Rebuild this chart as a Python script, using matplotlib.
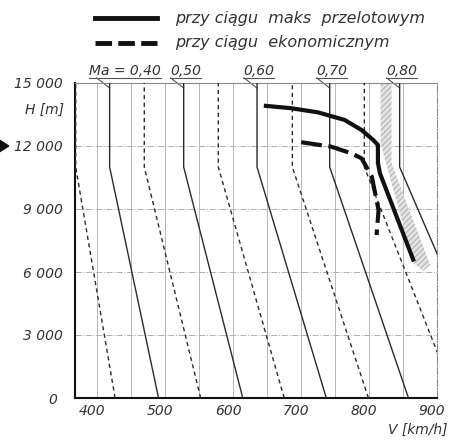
import matplotlib
matplotlib.use('Agg')
import matplotlib.pyplot as plt
import matplotlib.transforms as mtrans
from matplotlib.patches import Polygon
import numpy as np

plt.rcParams['font.family'] = ['DejaVu Sans']
plt.rcParams['font.style'] = 'italic'
plt.rcParams['hatch.linewidth'] = 0.6

# Mach reference lines: speed at sea level and in stratosphere (km/h)
mach_solid = ['Ma = 0,40', '0,50', '0,60', '0,70', '0,80']
v_sea_solid = [490, 614, 737, 858, 992]
v_top_solid = [418, 527, 635, 742, 845]
v_sea_dashed = [426, 552, 675, 799, 927]
v_top_dashed = [368, 469, 578, 687, 793]
h_break = 11000
h_top = 15000

# range at max cruise thrust
v_max = [645, 685, 725, 764, 789, 806, 813, 813, 816, 866]
h_max = [13920, 13800, 13600, 13240, 12760, 12290, 12050, 11200, 10700, 6500]
# range at economic thrust
v_eco = [700, 744, 774, 789, 804, 808, 814, 811]
h_eco = [12180, 11970, 11650, 11410, 10540, 9900, 8950, 7760]
# hatched band
v_band = [817, 833, 833, 890, 880, 866, 817]
h_band = [15000, 15000, 11190, 6330, 6050, 6400, 12100]

yticks = [0, 3000, 6000, 9000, 12000, 15000]
ylabels = ['0 ', '3 000', '6 000', '9 000', '12 000', '15 000']
xticks = [400, 500, 600, 700, 800, 900]

ink = '#2b2b2b'
fig = plt.figure(figsize=(4.52, 4.41), dpi=100)
ax = fig.add_axes([75/452, 1-398/441, 362/452, 315/441])
ax.set_xlim(367, 900)
ax.set_ylim(0, 15000)

for v in range(400, 901, 50):
    ax.axvline(v, color='#b8b8b8', lw=0.7, zorder=1)
for h in [3000, 6000, 9000, 12000]:
    ax.axhline(h, color='#b0b0b0', lw=0.7, ls='-.', zorder=1)

band = Polygon(np.column_stack([v_band, h_band]), closed=True, facecolor='#e2e2e2',
               edgecolor='#a8a8a8', hatch='//////', lw=0, zorder=2)
ax.add_patch(band)

for a, b in zip(v_sea_solid, v_top_solid):
    ax.plot([a, b, b], [0, h_break, h_top], color=ink, lw=1.0, zorder=3)
for a, b in zip(v_sea_dashed, v_top_dashed):
    ax.plot([a, b, b], [0, h_break, h_top], color=ink, lw=1.0, dashes=(3, 2.5), zorder=3)

ax.plot(v_max, h_max, color='#111111', lw=3.0, solid_capstyle='butt', zorder=4)
ax.plot(v_eco, h_eco, color='#111111', lw=3.0, dashes=(5, 1.6), zorder=4)

for s in ['top', 'right']:
    ax.spines[s].set_color('#8a8a8a')
    ax.spines[s].set_linewidth(0.8)
ax.spines['right'].set_linestyle('-.')
for s in ['left', 'bottom']:
    ax.spines[s].set_color('#111111')
    ax.spines[s].set_linewidth(1.5)

ax.set_yticks(yticks)
ax.set_yticklabels(ylabels)
ax.set_xticks(xticks)
ax.tick_params(length=0, labelsize=10, labelcolor='#333333')
ax.tick_params(axis='y', pad=9)
ax.tick_params(axis='x', pad=4)
shift = mtrans.ScaledTranslation(-5/100, 0, fig.dpi_scale_trans)
for lab in ax.get_xticklabels():
    lab.set_transform(lab.get_transform() + shift)

bt = mtrans.blended_transform_factory(ax.transAxes, ax.transData)
ax.text(-0.03, 13714, 'H [m]', transform=bt, ha='right', va='center', fontsize=10,
        color='#333333')
ax.text(1.03, -0.10, 'V [km/h]', transform=ax.transAxes, ha='right', va='center',
        fontsize=10, color='#333333')

# arrow at left
ax.add_patch(Polygon([[-0.215, 11650], [-0.183, 12000], [-0.215, 12350]], closed=True,
                     transform=bt, color='#111111', clip_on=False))

# Mach labels with leaders
offs = [-30, -20, -20, -20, -20]
fig.canvas.draw()
r = fig.canvas.get_renderer()
for lab, v, o in zip(mach_solid, v_top_solid, offs):
    t = ax.text(v + o, 15380, lab, fontsize=10, color='#333333', ha='left', va='baseline',
                clip_on=False)
    bb = t.get_window_extent(r).transformed(ax.transData.inverted())
    ax.plot([bb.x0, bb.x1], [15240, 15240], color='#555555', lw=0.8, clip_on=False)
    ax.plot([v - 19, v], [15240, 14760], color='#555555', lw=0.8, clip_on=False)

# legend
ax.plot([0.055, 0.2265], [1.206, 1.206], transform=ax.transAxes, color='#111111', lw=3.5,
        clip_on=False)
ax.plot([0.055, 0.2265], [1.127, 1.127], transform=ax.transAxes, color='#111111', lw=3.5,
        dashes=(3.4, 1.3), clip_on=False)
ax.text(0.276, 1.206, 'przy ciągu  maks  przelotowym', transform=ax.transAxes, fontsize=11.5,
        color='#333333', va='center', ha='left')
ax.text(0.276, 1.127, 'przy ciągu  ekonomicznym', transform=ax.transAxes, fontsize=11.5,
        color='#333333', va='center', ha='left')

fig.savefig('out.png', dpi=100)
